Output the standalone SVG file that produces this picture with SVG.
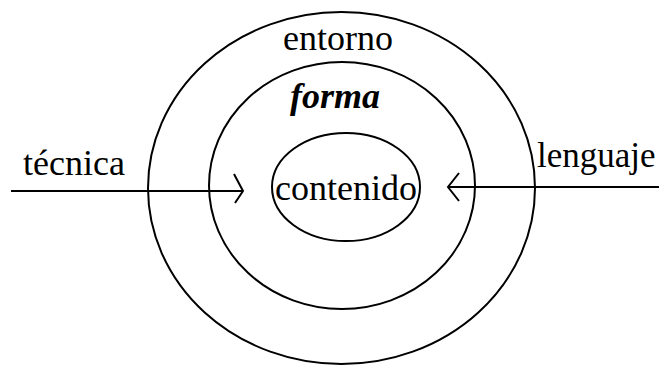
<svg xmlns="http://www.w3.org/2000/svg" width="659" height="365" viewBox="0 0 659 365">
<style>
.s{fill:none;stroke:#000;stroke-width:2}
.t{font-family:"Liberation Serif",serif;font-size:36px;fill:#000}
</style>
<rect width="659" height="365" fill="#fff"/>
<g id="entorno">
<ellipse class="s" cx="341.5" cy="188" rx="193.5" ry="176"/>
<text class="t" x="283" y="50">entorno</text>
</g>
<g id="forma">
<ellipse class="s" cx="342" cy="185.5" rx="133" ry="123.5"/>
<text class="t" x="290" y="108" font-weight="bold" font-style="italic">forma</text>
</g>
<g id="contenido">
<ellipse class="s" cx="346" cy="187" rx="74" ry="54"/>
<text class="t" x="275" y="200">contenido</text>
</g>
<g id="tecnica">
<text class="t" x="23" y="175">técnica</text>
</g>
<g id="lenguaje">
<text class="t" x="537" y="167" style="font-size:35px">lenguaje</text>
</g>
<g id="connectors">
<line class="s" x1="11" y1="191" x2="242" y2="191"/>
<polyline class="s" points="234,174 243,191 235,203"/>
<line class="s" x1="449" y1="187" x2="659" y2="187"/>
<polyline class="s" points="459,173 448,187 459,201"/>
</g>
</svg>
